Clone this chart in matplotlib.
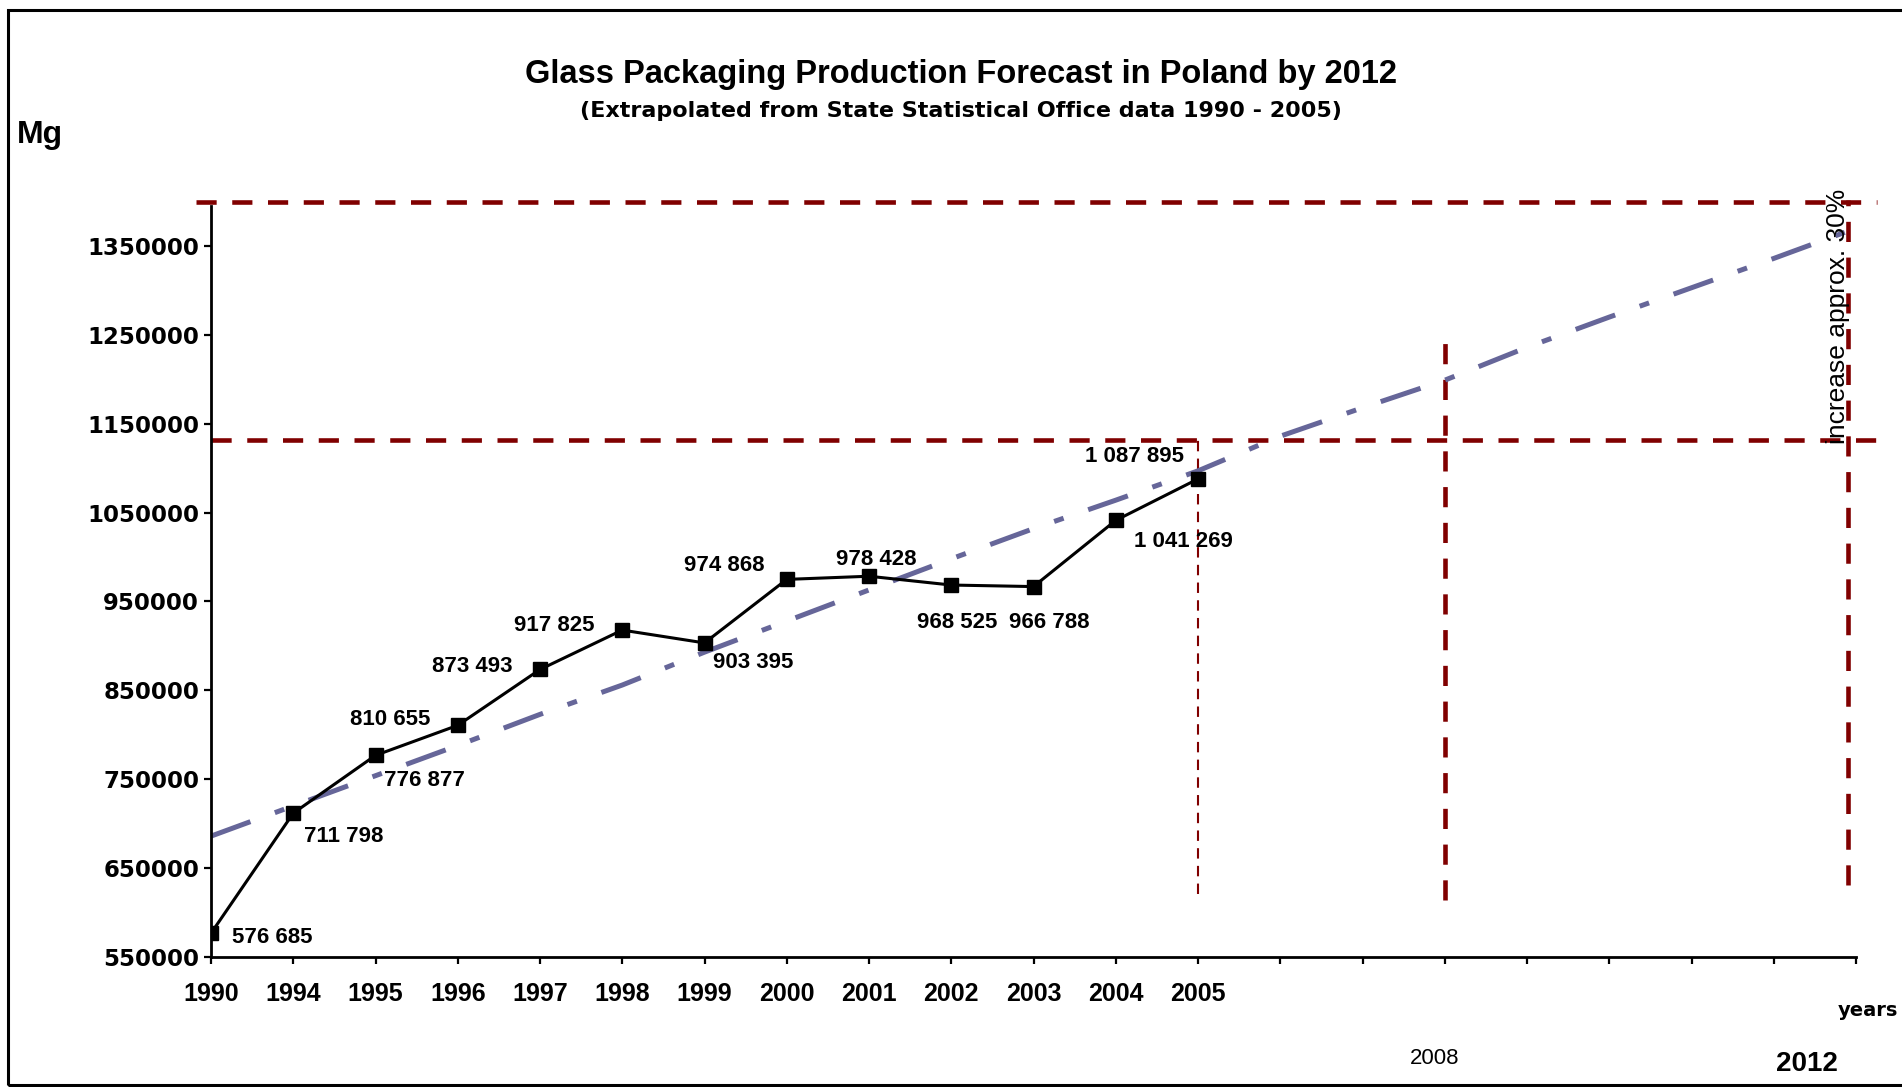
import matplotlib.pyplot as plt
from matplotlib.patches import Rectangle

# glass packaging output, Mg
years = ['1990', '1994', '1995', '1996', '1997', '1998', '1999', '2000',
         '2001', '2002', '2003', '2004', '2005']
production = [576685, 711798, 776877, 810655, 873493, 917825, 903395,
              974868, 978428, 968525, 966788, 1041269, 1087895]
labels = ['576 685', '711 798', '776 877', '810 655', '873 493', '917 825',
          '903 395', '974 868', '978 428', '968 525', '966 788',
          '1 041 269', '1 087 895']

# trend read at every category slot 0..20 (slot 20 = 2012)
trend = [686000, 720000, 754000, 788000, 823000, 856000, 893000, 928000,
         963000, 998000, 1032000, 1064000, 1097000, 1136000, 1168000,
         1199000, 1236000, 1270000, 1303000, 1336000, 1370000]

level_top = 1399000
level_2005 = 1132000

# label offsets (points) from each marker
offsets = [(44, -3), (36, -17), (35, -18), (-49, 4), (-49, 2), (-49, 3),
           (35, -14), (-45, 10), (5, 12), (4, -27), (11, -26), (49, -15),
           (-46, 16)]

W, H = 1902, 1087
plt.rcParams['font.family'] = ['Liberation Sans', 'DejaVu Sans']
wide = ['DejaVu Sans']

fig = plt.figure(figsize=(W / 100, H / 100), dpi=100)
ax = fig.add_axes([211 / W, 1 - 957 / H, (1856 - 211) / W, (957 - 206) / H])

red = '#800000'
ax.plot(range(len(trend)), trend, color='#666699', lw=3.6,
        linestyle=(0, (8.4, 5.2, 2, 5.2)), zorder=2)

ax.plot(range(len(production)), production, color='black', lw=2.2,
        marker='s', markersize=10, zorder=3)

for i, (v, t) in enumerate(zip(production, labels)):
    ax.annotate(t, (i, v), xytext=offsets[i], textcoords='offset points',
                ha='center', va='center', fontsize=16, fontweight='bold')

# reference levels and year markers
ax.plot([-0.18, 20.25], [level_top, level_top], color=red, lw=3.3,
        linestyle=(0, (4.4, 3.4)), clip_on=False, zorder=1)
ax.plot([0, 20.25], [level_2005, level_2005], color=red, lw=3.3,
        linestyle=(0, (4.4, 3.4)), clip_on=False, zorder=1)
ax.plot([12, 12], [621000, 1139000], color=red, lw=1.5,
        linestyle=(0, (5, 3.5)), zorder=1)
ax.plot([15, 15], [614000, 1247000], color=red, lw=3.3,
        linestyle=(0, (4.4, 3.4)), zorder=1)
ax.plot([19.9, 19.9], [631000, 1402000], color=red, lw=3.3,
        linestyle=(0, (4.4, 3.4)), clip_on=False, zorder=1)

ax.set_xlim(0, 20)
ax.set_ylim(550000, 1395000)
ax.set_xticks(range(21))
ax.set_xticklabels(years + [''] * 8, fontsize=18, fontweight='bold')
ax.set_yticks(range(550000, 1350001, 100000))
ax.set_yticklabels([str(v) for v in range(550000, 1350001, 100000)],
                   fontsize=16.5, fontweight='bold', family=wide)
for s in ['top', 'right']:
    ax.spines[s].set_visible(False)
for s in ['left', 'bottom']:
    ax.spines[s].set_linewidth(2)
ax.tick_params(direction='out', length=5, width=1.6)
ax.tick_params(axis='x', pad=13)

fig.text(961 / W, 1 - 74 / H, 'Glass Packaging Production Forecast in Poland by 2012',
         ha='center', va='center', fontsize=23.5, fontweight='bold')
fig.text(961 / W, 1 - 111 / H, '(Extrapolated from State Statistical Office data 1990 - 2005)',
         ha='center', va='center', fontsize=16, fontweight='bold', family=wide)
fig.text(17 / W, 1 - 135 / H, 'Mg', ha='left', va='center',
         fontsize=23, fontweight='bold')
fig.text(1898 / W, 1 - 1010 / H, 'years', ha='right', va='center',
         fontsize=14, fontweight='bold', family=wide)
fig.text(1435 / W, 1 - 1058 / H, '2008', ha='center', va='center', fontsize=16)
fig.text(1807 / W, 1 - 1064 / H, '2012', ha='center', va='center',
         fontsize=20, fontweight='bold')
fig.text(1838 / W, 1 - 316 / H, 'increase approx. 30%', ha='center',
         va='center', rotation=90, fontsize=19)

fig.patches.append(Rectangle((8 / W, 2 / H), 1.0, 1 - 12 / H, fill=False,
                             edgecolor='black', lw=2.2, transform=fig.transFigure,
                             figure=fig))

fig.savefig('out.png', dpi=100, facecolor='white')
